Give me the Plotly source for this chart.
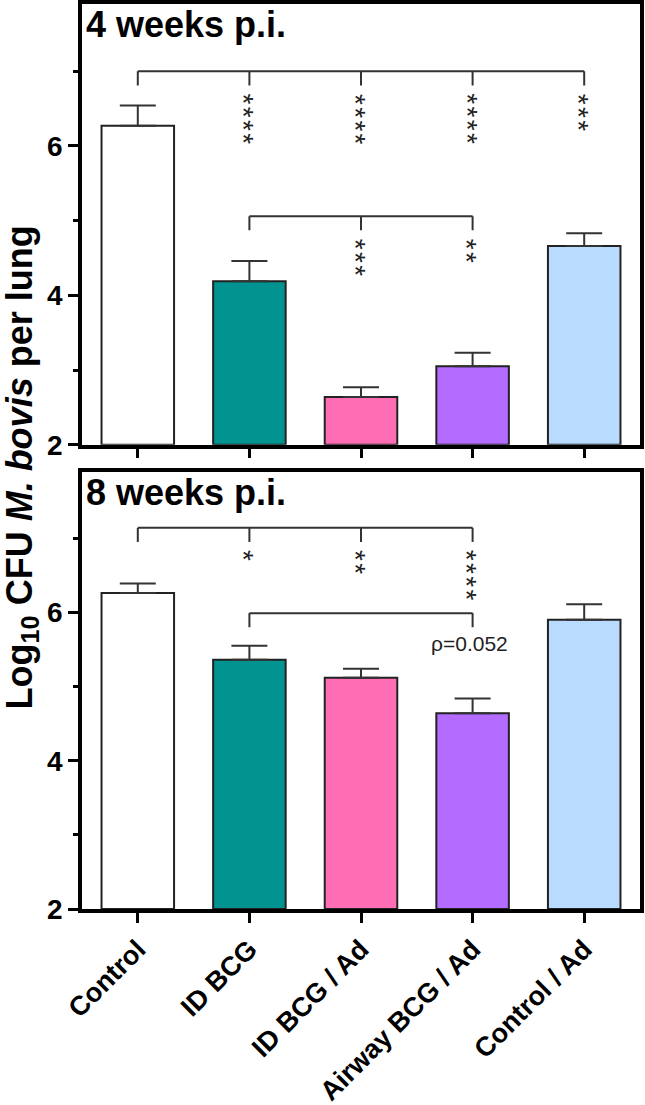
import plotly.graph_objects as go
from plotly.subplots import make_subplots

groups = ["Control", "ID BCG", "ID BCG / Ad", "Airway BCG / Ad", "Control / Ad"]
bar_colors = ["#FFFFFF", "#00938F", "#FF6EB4", "#B36CFF", "#B8DBFF"]

wk4_mean = [6.27, 4.19, 2.64, 3.05, 4.66]
wk4_sem = [0.27, 0.27, 0.13, 0.18, 0.17]
wk8_mean = [6.26, 5.36, 5.12, 4.64, 5.90]
wk8_sem = [0.13, 0.19, 0.12, 0.20, 0.21]

# significance marks (vs Control, vs ID BCG)
wk4_vs_ctrl = ["", "****", "****", "****", "***"]
wk4_vs_id = ["", "", "***", "**", ""]
wk8_vs_ctrl = ["", "*", "**", "****", ""]
wk8_vs_id_p = "ρ=0.052"

# brackets: (drop positions, level)
wk4_brackets = [([0, 1, 2, 3, 4], 7.0), ([1, 2, 3], 5.06)]
wk8_brackets = [([0, 1, 2, 3], 7.14), ([1, 3], 5.99)]
drop = 0.19

FONT = "Arial, Liberation Sans, sans-serif"
INK = "#222222"

fig = make_subplots(rows=2, cols=1)

panels = [
    (1, "4 weeks p.i.", wk4_mean, wk4_sem, wk4_brackets, [wk4_vs_ctrl, wk4_vs_id]),
    (2, "8 weeks p.i.", wk8_mean, wk8_sem, wk8_brackets, [wk8_vs_ctrl]),
]

for row, title, mean, sem, brackets, stars in panels:
    fig.add_trace(go.Bar(
        x=groups, y=[m - 2 for m in mean], base=2, width=0.65,
        marker=dict(color=bar_colors, line=dict(color=INK, width=2)),
        error_y=dict(type="data", array=sem, arrayminus=[0] * len(sem),
                     symmetric=False, color="#333333", thickness=2, width=18),
        showlegend=False, hoverinfo="skip",
    ), row=row, col=1)

    xr = "x" if row == 1 else "x2"
    yr = "y" if row == 1 else "y2"

    for (idx, level), marks in zip(brackets, stars + [None] * (len(brackets) - len(stars))):
        fig.add_shape(type="line", xref=xr, yref=yr, x0=idx[0], x1=idx[-1],
                      y0=level, y1=level, line=dict(color="#333333", width=2))
        for i in idx:
            fig.add_shape(type="line", xref=xr, yref=yr, x0=i, x1=i,
                          y0=level, y1=level - drop, line=dict(color="#333333", width=2))
        if marks is None:
            continue
        for i, s in enumerate(marks):
            if not s:
                continue
            fig.add_annotation(
                xref=xr, yref=yr, x=i, y=level - drop, yanchor="top", xanchor="center",
                text="\u200a".join(s), textangle=90, showarrow=False, yshift=-6, xshift=-6,
                font=dict(family=FONT, size=28, color=INK),
            )

    fig.add_annotation(
        xref=xr + " domain", yref=yr, x=0, y=7.62, xanchor="left", yanchor="middle",
        xshift=2, text="<b>%s</b>" % title, showarrow=False,
        font=dict(family=FONT, size=36, color="black"),
    )

fig.add_annotation(
    xref="x2", yref="y2", x=3, y=5.58, xanchor="center", yanchor="middle", xshift=-3,
    text=wk8_vs_id_p, showarrow=False, font=dict(family=FONT, size=21, color=INK),
)

fig.add_annotation(
    xref="paper", yref="paper", x=-0.1075, y=0.488, xanchor="center", yanchor="middle",
    textangle=-90, showarrow=False,
    text="<b>Log<sub>10</sub> CFU <i>M. bovis</i> per lung</b>",
    font=dict(family=FONT, size=36, color="black"),
)

axis_common = dict(showline=True, linecolor="black", linewidth=3.5, mirror=True,
                   showgrid=False, zeroline=False, automargin=False)

for row in (1, 2):
    fig.update_yaxes(
        range=[2, 7.9], tickvals=[2, 4, 6], ticks="outside", ticklen=10, tickwidth=3,
        tickcolor="black",
        tickfont=dict(family=FONT, size=28, color="black", weight="bold"),
        minor=dict(tickvals=[3, 5, 7], ticks="outside", ticklen=5, tickwidth=3,
                   tickcolor="black"),
        row=row, col=1, **axis_common)
    fig.update_xaxes(
        type="category", range=[-0.5, 4.5], ticks="outside", ticklen=10, tickwidth=3,
        tickcolor="black", showticklabels=(row == 2), tickangle=-45,
        tickfont=dict(family=FONT, size=27, color="black", weight="bold"),
        row=row, col=1, **axis_common)

fig.update_layout(
    width=645, height=1105,
    margin=dict(l=82, r=5, t=4, b=196),
    plot_bgcolor="white", paper_bgcolor="white",
    xaxis=dict(domain=[0, 1]), xaxis2=dict(domain=[0, 1]),
    yaxis=dict(domain=[0.513, 1]), yaxis2=dict(domain=[0, 0.4834]),
    bargap=0.35,
)

fig.write_html("out.html", config={"displayModeBar": False},
               post_script="document.body.style.margin='0';")
